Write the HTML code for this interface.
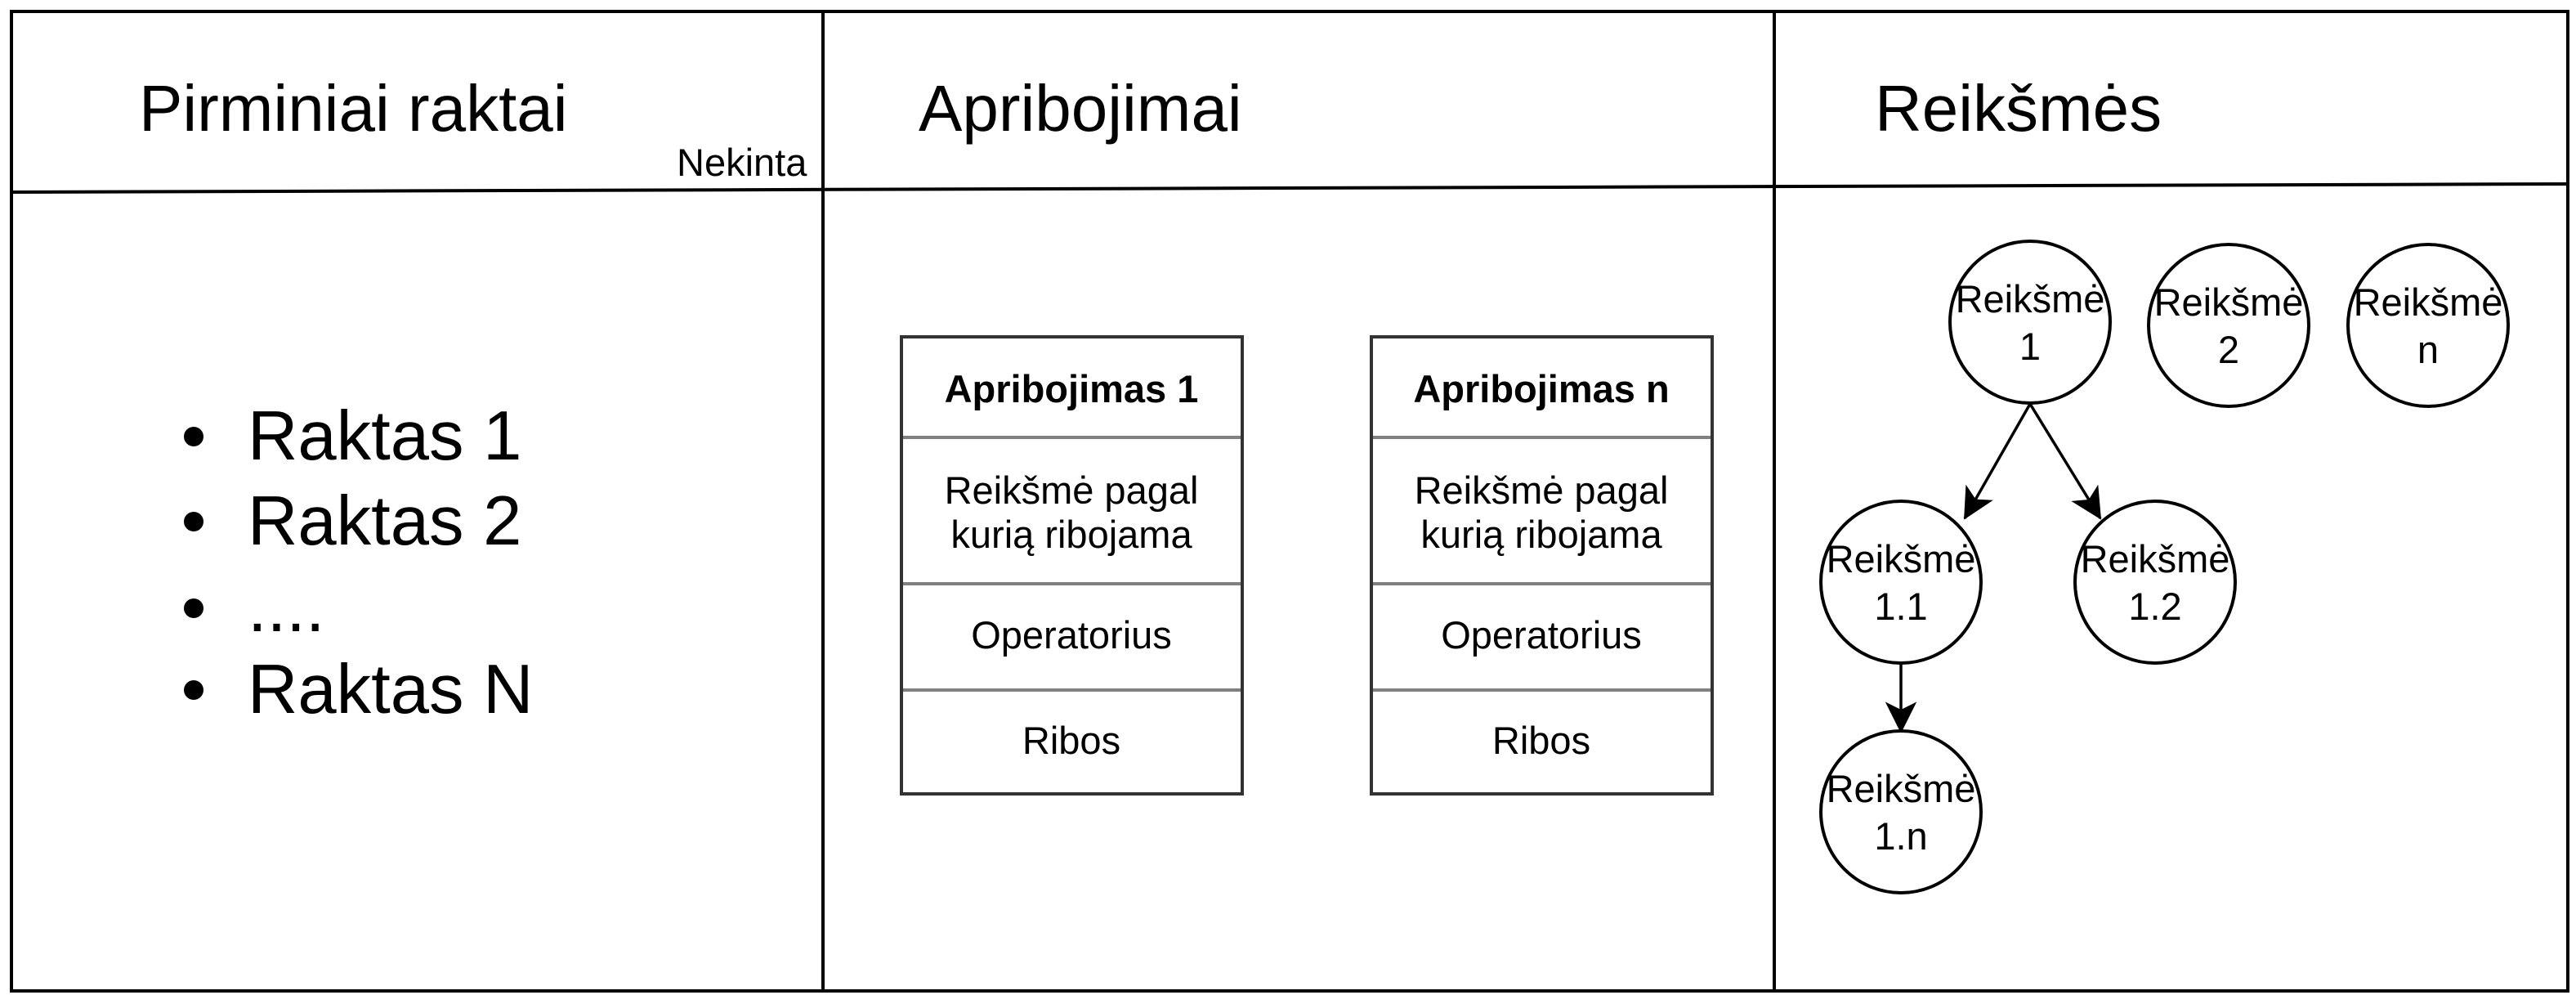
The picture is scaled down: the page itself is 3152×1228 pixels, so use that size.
<!DOCTYPE html>
<html><head><meta charset="utf-8"><style>
html,body{margin:0;padding:0;background:#fff;}
svg{display:block;}
text{font-family:"Liberation Sans",Arial,sans-serif;fill:#000;}
</style></head><body>
<svg width="3152" height="1228" viewBox="0 0 3152 1228" xmlns="http://www.w3.org/2000/svg">
<defs>
<marker id="ah" viewBox="0 0 20 20" refX="19" refY="10" markerWidth="11" markerHeight="11" markerUnits="strokeWidth" orient="auto">
<path d="M0,0 L20,10 L0,20 L5,10 Z" fill="#000"/>
</marker>
</defs>
<rect x="0" y="0" width="3152" height="1228" fill="#fff"/>
<rect x="14" y="14" width="3128" height="1198" fill="none" stroke="#000" stroke-width="4"/>
<line x1="1007" y1="14" x2="1007" y2="1212" stroke="#000" stroke-width="4"/>
<line x1="2171" y1="14" x2="2171" y2="1212" stroke="#000" stroke-width="4"/>
<line x1="14" y1="235" x2="3142" y2="225" stroke="#000" stroke-width="4"/>

<text x="170" y="160" font-size="80">Pirminiai raktai</text>
<text x="828" y="215" font-size="47">Nekinta</text>
<text x="1124" y="160" font-size="80">Apribojimai</text>
<text x="2294" y="160" font-size="80">Reikšmės</text>

<g font-size="85">
<circle cx="237" cy="534" r="12" fill="#000"/>
<text x="303" y="562">Raktas 1</text>
<circle cx="237" cy="638" r="12" fill="#000"/>
<text x="303" y="666">Raktas 2</text>
<circle cx="237" cy="744" r="12" fill="#000"/>
<text x="303" y="772">....</text>
<circle cx="237" cy="844" r="12" fill="#000"/>
<text x="303" y="872">Raktas N</text>
</g>

<g font-size="47" text-anchor="middle">
<rect x="1103" y="412" width="417" height="559" fill="#fff" stroke="#333" stroke-width="4"/>
<line x1="1105" y1="535" x2="1518" y2="535" stroke="#808080" stroke-width="4"/>
<line x1="1105" y1="714" x2="1518" y2="714" stroke="#808080" stroke-width="4"/>
<line x1="1105" y1="844" x2="1518" y2="844" stroke="#808080" stroke-width="4"/>
<text x="1311" y="492" font-weight="bold">Apribojimas 1</text>
<text x="1311" y="616">Reikšmė pagal</text>
<text x="1311" y="670">kurią ribojama</text>
<text x="1311" y="793">Operatorius</text>
<text x="1311" y="922">Ribos</text>

<rect x="1678" y="412" width="417" height="559" fill="#fff" stroke="#333" stroke-width="4"/>
<line x1="1680" y1="535" x2="2093" y2="535" stroke="#808080" stroke-width="4"/>
<line x1="1680" y1="714" x2="2093" y2="714" stroke="#808080" stroke-width="4"/>
<line x1="1680" y1="844" x2="2093" y2="844" stroke="#808080" stroke-width="4"/>
<text x="1886" y="492" font-weight="bold">Apribojimas n</text>
<text x="1886" y="616">Reikšmė pagal</text>
<text x="1886" y="670">kurią ribojama</text>
<text x="1886" y="793">Operatorius</text>
<text x="1886" y="922">Ribos</text>
</g>

<g stroke="#000" stroke-width="3.5" fill="none">
<line x1="2484" y1="494" x2="2404" y2="634" marker-end="url(#ah)"/>
<line x1="2484" y1="494" x2="2570" y2="634" marker-end="url(#ah)"/>
<line x1="2326" y1="812" x2="2326" y2="895" marker-end="url(#ah)"/>
</g>

<g fill="#fff" stroke="#000" stroke-width="4">
<ellipse cx="2484" cy="394" rx="98" ry="99"/>
<ellipse cx="2727" cy="398" rx="98" ry="99"/>
<ellipse cx="2971" cy="398" rx="98" ry="99"/>
<ellipse cx="2326" cy="712" rx="98" ry="99"/>
<ellipse cx="2637" cy="712" rx="98" ry="99"/>
<ellipse cx="2326" cy="993" rx="98" ry="99"/>
</g>
<g font-size="47" text-anchor="middle">
<text x="2484" y="382">Reikšmė</text><text x="2484" y="440">1</text>
<text x="2727" y="386">Reikšmė</text><text x="2727" y="444">2</text>
<text x="2971" y="386">Reikšmė</text><text x="2971" y="444">n</text>
<text x="2326" y="700">Reikšmė</text><text x="2326" y="758">1.1</text>
<text x="2637" y="700">Reikšmė</text><text x="2637" y="758">1.2</text>
<text x="2326" y="981">Reikšmė</text><text x="2326" y="1039">1.n</text>
</g>
</svg>
</body></html>
